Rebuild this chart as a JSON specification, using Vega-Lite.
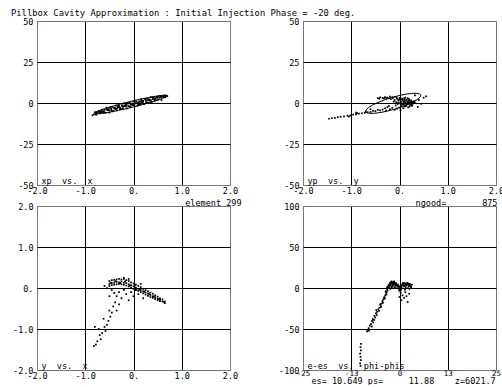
{
  "$schema": "https://vega.github.io/schema/vega-lite/v6.json",
  "padding": {"left": 11, "top": 8, "right": 0, "bottom": 0},
  "title": {"text": "Pillbox Cavity Approximation : Initial Injection Phase = -20 deg.", "anchor": "start", "frame": "group", "dx": -26, "fontSize": 8.8, "fontWeight": "normal", "font": "DejaVu Sans Mono", "offset": -1, "color": "black"},
  "columns": 2,
  "spacing": {"row": 21, "column": 73},
  "bounds": "flush",
  "datasets": {
    "etl": [
      {"i":0,"x":0.697,"y":4.46},{"i":1,"x":0.675,"y":3.82},{"i":2,"x":0.603,"y":2.85},{"i":3,"x":0.487,"y":1.63},{"i":4,"x":0.333,"y":0.23},{"i":5,"x":0.153,"y":-1.24},{"i":6,"x":-0.041,"y":-2.69},{"i":7,"x":-0.237,"y":-4.02},{"i":8,"x":-0.42,"y":-5.14},{"i":9,"x":-0.578,"y":-5.97},{"i":10,"x":-0.70,"y":-6.45},{"i":11,"x":-0.779,"y":-6.56},{"i":12,"x":-0.809,"y":-6.28},{"i":13,"x":-0.787,"y":-5.64},{"i":14,"x":-0.715,"y":-4.67},{"i":15,"x":-0.599,"y":-3.45},{"i":16,"x":-0.445,"y":-2.05},{"i":17,"x":-0.265,"y":-0.58},{"i":18,"x":-0.071,"y":0.87},{"i":19,"x":0.125,"y":2.20},{"i":20,"x":0.308,"y":3.32},{"i":21,"x":0.466,"y":4.15},{"i":22,"x":0.589,"y":4.63},{"i":23,"x":0.667,"y":4.74},{"i":24,"x":0.697,"y":4.46}
    ],
    "etr": [
      {"i":0,"x":0.443,"y":4.86},{"i":1,"x":0.433,"y":3.78},{"i":2,"x":0.384,"y":2.43},{"i":3,"x":0.30,"y":0.90},{"i":4,"x":0.187,"y":-0.70},{"i":5,"x":0.052,"y":-2.27},{"i":6,"x":-0.095,"y":-3.7},{"i":7,"x":-0.244,"y":-4.89},{"i":8,"x":-0.386,"y":-5.76},{"i":9,"x":-0.51,"y":-6.25},{"i":10,"x":-0.608,"y":-6.33},{"i":11,"x":-0.674,"y":-5.99},{"i":12,"x":-0.703,"y":-5.26},{"i":13,"x":-0.693,"y":-4.18},{"i":14,"x":-0.644,"y":-2.83},{"i":15,"x":-0.56,"y":-1.30},{"i":16,"x":-0.447,"y":0.30},{"i":17,"x":-0.312,"y":1.87},{"i":18,"x":-0.165,"y":3.3},{"i":19,"x":-0.016,"y":4.49},{"i":20,"x":0.126,"y":5.36},{"i":21,"x":0.25,"y":5.85},{"i":22,"x":0.348,"y":5.93},{"i":23,"x":0.414,"y":5.59},{"i":24,"x":0.443,"y":4.86}
    ],
    "tl": [
      {"x":-0.80,"y":-5.6},{"x":-0.78,"y":-6.7},{"x":-0.76,"y":-5.7},{"x":-0.74,"y":-6.1},{"x":-0.72,"y":-4.9},{"x":-0.70,"y":-6.3},{"x":-0.68,"y":-5.2},{"x":-0.66,"y":-4.3},{"x":-0.64,"y":-5.3},{"x":-0.62,"y":-5.9},{"x":-0.60,"y":-4.2},{"x":-0.58,"y":-6.0},{"x":-0.56,"y":-2.8},{"x":-0.54,"y":-4.4},{"x":-0.52,"y":-3.7},{"x":-0.50,"y":-5.9},{"x":-0.48,"y":-2.9},{"x":-0.46,"y":-4.5},{"x":-0.44,"y":-2.4},{"x":-0.42,"y":-4.8},{"x":-0.40,"y":-2.9},{"x":-0.38,"y":-3.8},{"x":-0.36,"y":-1.6},{"x":-0.34,"y":-4.5},{"x":-0.32,"y":-2.7},{"x":-0.30,"y":-1.7},{"x":-0.28,"y":-2.8},{"x":-0.26,"y":-3.4},{"x":-0.24,"y":-1.6},{"x":-0.22,"y":-3.5},{"x":-0.20,"y":-0.2},{"x":-0.18,"y":-1.9},{"x":-0.16,"y":-1.1},{"x":-0.14,"y":-3.3},{"x":-0.12,"y":-0.4},{"x":-0.10,"y":-1.9},{"x":-0.08,"y":0.1},{"x":-0.06,"y":-2.2},{"x":-0.04,"y":-0.4},{"x":-0.02,"y":-1.2},{"x":0.00,"y":1.0},{"x":0.02,"y":-2.0},{"x":0.04,"y":-0.1},{"x":0.06,"y":0.8},{"x":0.08,"y":-0.2},{"x":0.10,"y":-0.8},{"x":0.12,"y":1.0},{"x":0.14,"y":-0.9},{"x":0.16,"y":2.3},{"x":0.18,"y":0.7},{"x":0.20,"y":1.4},{"x":0.22,"y":-0.7},{"x":0.24,"y":2.2},{"x":0.26,"y":0.6},{"x":0.28,"y":2.7},{"x":0.30,"y":0.3},{"x":0.32,"y":2.2},{"x":0.34,"y":1.3},{"x":0.36,"y":3.6},{"x":0.38,"y":0.6},{"x":0.40,"y":2.4},{"x":0.42,"y":3.4},{"x":0.44,"y":2.3},{"x":0.46,"y":1.8},{"x":0.48,"y":3.5},{"x":0.50,"y":1.7},{"x":0.52,"y":4.2},{"x":0.54,"y":3.2},{"x":0.56,"y":4.0},{"x":0.58,"y":1.8},{"x":0.60,"y":4.3},{"x":0.62,"y":3.5},{"x":0.64,"y":4.6},{"x":0.66,"y":3.5},{"x":0.68,"y":4.5},{"x":0.70,"y":4.2},
      {"x":-0.60,"y":-5.7},{"x":-0.56,"y":-3.7},{"x":-0.52,"y":-4.4},{"x":-0.48,"y":-2.6},{"x":-0.44,"y":-5.1},{"x":-0.40,"y":-3.0},{"x":-0.36,"y":-3.6},{"x":-0.32,"y":-1.7},{"x":-0.28,"y":-3.7},{"x":-0.24,"y":-1.5},{"x":-0.20,"y":-1.9},{"x":-0.16,"y":-2.0},{"x":-0.12,"y":0.0},{"x":-0.08,"y":-2.2},{"x":-0.04,"y":-0.6},{"x":0.00,"y":-1.3},{"x":0.04,"y":1.4},{"x":0.08,"y":-1.6},{"x":0.12,"y":-0.6},{"x":0.16,"y":1.4},{"x":0.20,"y":0.7},{"x":0.24,"y":2.5},{"x":0.28,"y":0.0},{"x":0.32,"y":2.1},{"x":0.36,"y":1.6},{"x":0.40,"y":3.4},{"x":0.44,"y":1.4},{"x":0.48,"y":3.6},
      {"x":-0.70,"y":-5.6},{"x":-0.62,"y":-5.0},{"x":-0.54,"y":-4.0},{"x":-0.46,"y":-3.6},{"x":-0.38,"y":-3.1},{"x":-0.30,"y":-2.4},{"x":-0.22,"y":-2.3},{"x":-0.14,"y":-1.6},{"x":-0.06,"y":-1.0},{"x":0.02,"y":-0.6},{"x":0.10,"y":0.3},{"x":0.18,"y":0.9},{"x":0.26,"y":1.5},{"x":0.34,"y":2.0},{"x":0.42,"y":2.6},{"x":0.50,"y":3.1},{"x":0.58,"y":3.7},{"x":0.66,"y":4.1},{"x":-0.66,"y":-5.6},{"x":-0.50,"y":-4.4},{"x":-0.34,"y":-3.2},{"x":-0.18,"y":-1.5},{"x":-0.02,"y":-0.4},{"x":0.14,"y":0.6},{"x":0.30,"y":1.7},{"x":0.46,"y":2.8},{"x":0.62,"y":4.0},
      {"x":-0.85,"y":-7.5},{"x":-0.82,"y":-6.9},{"x":-0.77,"y":-7.2}
    ],
    "tr": [
      {"x":-0.05,"y":2.5},{"x":0.00,"y":3.0},{"x":0.05,"y":2.2},{"x":0.10,"y":2.8},{"x":0.15,"y":1.9},{"x":0.20,"y":1.2},{"x":0.25,"y":0.5},{"x":0.18,"y":-0.5},{"x":0.12,"y":0.3},{"x":0.08,"y":1.0},{"x":0.02,"y":0.4},{"x":-0.02,"y":1.5},{"x":0.06,"y":-0.8},{"x":0.14,"y":-1.5},{"x":0.22,"y":-1.2},{"x":0.28,"y":-0.4},{"x":0.10,"y":-2.2},{"x":0.04,"y":-1.9},{"x":-0.04,"y":-0.6},{"x":0.16,"y":0.9},{"x":0.20,"y":2.4},{"x":0.24,"y":1.6},{"x":0.30,"y":1.0},{"x":0.26,"y":-1.8},{"x":0.00,"y":-2.8},{"x":-0.08,"y":-1.5},{"x":-0.12,"y":0.8},{"x":-0.10,"y":1.8},{"x":0.12,"y":3.3},{"x":0.18,"y":-2.6},{"x":0.08,"y":-3.2},{"x":0.32,"y":0.2},
      {"x":0.03,"y":0.9},{"x":0.07,"y":1.7},{"x":0.11,"y":2.1},{"x":0.13,"y":-0.4},{"x":0.17,"y":0.4},{"x":0.21,"y":0.0},{"x":0.23,"y":0.9},{"x":0.19,"y":1.6},{"x":0.09,"y":-1.1},{"x":0.01,"y":-0.3},{"x":-0.03,"y":0.2},{"x":0.05,"y":-0.2},{"x":0.15,"y":-0.9},{"x":0.25,"y":-0.9},{"x":0.27,"y":0.8},{"x":0.17,"y":2.9},{"x":0.06,"y":2.7},{"x":-0.06,"y":3.3},{"x":-0.01,"y":2.1},{"x":0.13,"y":-2.0},{"x":0.21,"y":-2.1},{"x":0.09,"y":0.5},{"x":0.19,"y":0.2},{"x":0.03,"y":-1.2},{"x":-0.07,"y":0.6},{"x":0.11,"y":1.2},{"x":0.29,"y":0.3},{"x":0.23,"y":-0.3},{"x":-0.14,"y":2.9},{"x":-0.27,"y":3.0},
      {"x":-0.45,"y":3.0},{"x":-0.40,"y":3.4},{"x":-0.35,"y":3.1},{"x":-0.30,"y":3.6},{"x":-0.25,"y":3.3},{"x":-0.20,"y":3.9},{"x":-0.15,"y":3.5},{"x":-0.10,"y":3.8},{"x":-0.42,"y":2.6},{"x":-0.32,"y":2.8},{"x":-0.22,"y":2.9},{"x":-0.18,"y":2.4},
      {"x":-0.30,"y":-3.2},{"x":-0.25,"y":-2.5},{"x":-0.20,"y":-3.8},{"x":-0.15,"y":-2.9},{"x":-0.10,"y":-4.2},{"x":-0.05,"y":-3.5},{"x":0.02,"y":-4.4},{"x":-0.22,"y":-1.8},{"x":-0.35,"y":-4.0},{"x":-0.28,"y":-4.6},
      {"x":0.40,"y":1.8},{"x":0.50,"y":3.2},{"x":0.38,"y":-2.4},{"x":0.32,"y":4.6},{"x":0.45,"y":-0.5},{"x":0.55,"y":4.0},
      {"x":-0.40,"y":-4.5},{"x":-0.45,"y":-4.2},{"x":-0.50,"y":-5.0},{"x":-0.55,"y":-4.8},{"x":-0.60,"y":-5.5},{"x":-0.66,"y":-5.6},{"x":-0.72,"y":-6.0},{"x":-0.78,"y":-6.3},{"x":-0.84,"y":-6.5},{"x":-0.90,"y":-7.0},{"x":-0.96,"y":-7.1},{"x":-1.02,"y":-7.6},{"x":-1.08,"y":-7.7},{"x":-1.15,"y":-8.1},{"x":-1.22,"y":-8.4},{"x":-1.28,"y":-8.6},{"x":-1.34,"y":-9.1},{"x":-1.40,"y":-9.3},{"x":-1.46,"y":-9.6},{"x":-0.70,"y":-5.2},{"x":-0.88,"y":-6.2},{"x":-1.05,"y":-8.3},{"x":-0.60,"y":-3.8},{"x":-0.90,"y":-5.9}
    ],
    "bl": [
      {"x":-0.50,"y":0.17},{"x":-0.50,"y":0.10},{"x":-0.50,"y":0.05},{"x":-0.45,"y":0.19},{"x":-0.45,"y":0.12},{"x":-0.45,"y":0.07},{"x":-0.40,"y":0.20},{"x":-0.40,"y":0.13},{"x":-0.40,"y":0.08},{"x":-0.35,"y":0.21},{"x":-0.35,"y":0.15},{"x":-0.35,"y":0.09},{"x":-0.30,"y":0.22},{"x":-0.30,"y":0.14},{"x":-0.30,"y":0.10},{"x":-0.25,"y":0.21},{"x":-0.25,"y":0.16},{"x":-0.25,"y":0.09},{"x":-0.20,"y":0.22},{"x":-0.20,"y":0.13},{"x":-0.20,"y":0.08},{"x":-0.15,"y":0.19},{"x":-0.15,"y":0.12},{"x":-0.15,"y":0.06},{"x":-0.10,"y":0.17},{"x":-0.10,"y":0.09},{"x":-0.10,"y":0.04},{"x":-0.05,"y":0.14},{"x":-0.05,"y":0.07},{"x":-0.05,"y":0.01},{"x":0.00,"y":0.11},{"x":0.00,"y":0.04},{"x":0.00,"y":-0.02},{"x":0.05,"y":0.08},{"x":0.05,"y":0.01},{"x":0.05,"y":-0.05},{"x":0.10,"y":0.05},{"x":0.10,"y":-0.02},{"x":0.10,"y":-0.07},{"x":0.15,"y":0.02},{"x":0.15,"y":-0.05},{"x":0.15,"y":-0.10},{"x":0.20,"y":-0.02},{"x":0.20,"y":-0.08},{"x":0.20,"y":-0.13},{"x":0.25,"y":-0.05},{"x":0.25,"y":-0.11},{"x":0.25,"y":-0.16},{"x":0.30,"y":-0.08},{"x":0.30,"y":-0.14},{"x":0.30,"y":-0.19},{"x":0.35,"y":-0.11},{"x":0.35,"y":-0.17},{"x":0.35,"y":-0.22},{"x":0.40,"y":-0.14},{"x":0.40,"y":-0.20},{"x":0.40,"y":-0.24},{"x":0.45,"y":-0.18},{"x":0.45,"y":-0.23},{"x":0.45,"y":-0.27},{"x":0.50,"y":-0.21},{"x":0.50,"y":-0.26},{"x":0.50,"y":-0.30},{"x":0.55,"y":-0.25},{"x":0.55,"y":-0.29},{"x":0.55,"y":-0.32},{"x":0.60,"y":-0.28},{"x":0.60,"y":-0.33},{"x":0.65,"y":-0.33},{"x":0.65,"y":-0.37},
      {"x":-0.475,"y":0.13},{"x":-0.375,"y":0.17},{"x":-0.275,"y":0.12},{"x":-0.175,"y":0.16},{"x":-0.075,"y":0.06},{"x":0.025,"y":0.06},{"x":0.125,"y":-0.04},{"x":0.225,"y":-0.09},{"x":0.325,"y":-0.15},{"x":0.425,"y":-0.21},{"x":0.525,"y":-0.27},{"x":0.625,"y":-0.34},
      {"x":-0.45,"y":-0.05},{"x":-0.40,"y":-0.12},{"x":-0.35,"y":-0.20},{"x":-0.30,"y":-0.10},{"x":-0.25,"y":-0.25},{"x":-0.20,"y":-0.05},{"x":-0.15,"y":-0.15},{"x":-0.10,"y":-0.30},{"x":-0.05,"y":-0.10},{"x":0.00,"y":-0.20},{"x":0.10,"y":-0.15},{"x":0.20,"y":-0.25},{"x":-0.50,"y":-0.20},{"x":-0.38,"y":-0.35},{"x":-0.30,"y":-0.40},{"x":-0.42,"y":-0.45},{"x":-0.35,"y":-0.55},{"x":-0.45,"y":-0.60},{"x":0.05,"y":-0.05},{"x":-0.55,"y":0.00},{"x":-0.60,"y":0.05},{"x":-0.20,"y":0.25},{"x":-0.10,"y":0.22},{"x":0.15,"y":0.10},
      {"x":-0.48,"y":-0.70},{"x":-0.52,"y":-0.80},{"x":-0.55,"y":-0.90},{"x":-0.60,"y":-0.95},{"x":-0.58,"y":-1.05},{"x":-0.65,"y":-1.10},{"x":-0.70,"y":-1.15},{"x":-0.68,"y":-1.25},{"x":-0.75,"y":-1.30},{"x":-0.78,"y":-1.38},{"x":-0.82,"y":-1.42},{"x":-0.72,"y":-1.00},{"x":-0.62,"y":-0.75},{"x":-0.50,"y":-0.55},{"x":-0.80,"y":-0.95}
    ],
    "br": [
      {"x":-3.0,"y":2},{"x":-2.8,"y":4},{"x":-2.5,"y":6},{"x":-2.2,"y":5},{"x":-2.0,"y":7},{"x":-1.8,"y":4},{"x":-1.5,"y":6},{"x":-1.2,"y":5},{"x":-1.0,"y":3},{"x":-0.8,"y":4},{"x":-0.5,"y":2},{"x":-2.6,"y":1},{"x":-2.3,"y":3},{"x":-1.9,"y":2},{"x":-1.6,"y":3},{"x":-1.3,"y":1},{"x":-1.0,"y":0},{"x":-2.9,"y":0},{"x":-2.4,"y":-1},{"x":-2.1,"y":8},{"x":-1.7,"y":7},{"x":-1.4,"y":8},
      {"x":-2.7,"y":3},{"x":-2.4,"y":5},{"x":-2.2,"y":7},{"x":-1.9,"y":6},{"x":-1.6,"y":5},{"x":-1.3,"y":7},{"x":-1.1,"y":4},{"x":-0.9,"y":6},{"x":-0.7,"y":3},{"x":-0.4,"y":4},{"x":-0.2,"y":2},{"x":0.1,"y":0},{"x":0.5,"y":1},{"x":0.7,"y":4},{"x":1.0,"y":6},{"x":1.2,"y":3},{"x":1.7,"y":5},{"x":2.1,"y":6},{"x":2.5,"y":4},{"x":2.7,"y":5},{"x":2.9,"y":2},{"x":-3.2,"y":1},{"x":-2.0,"y":1},{"x":1.4,"y":-2},{"x":0.2,"y":-4},
      {"x":-0.3,"y":0},{"x":0.0,"y":-2},{"x":0.2,"y":-1},{"x":0.3,"y":1},{"x":-0.1,"y":-3},{"x":0.1,"y":2},{"x":0.4,"y":-2},
      {"x":0.6,"y":3},{"x":0.8,"y":5},{"x":1.0,"y":4},{"x":1.3,"y":6},{"x":1.5,"y":5},{"x":1.8,"y":3},{"x":2.0,"y":4},{"x":2.3,"y":5},{"x":2.5,"y":2},{"x":2.8,"y":3},{"x":3.0,"y":1},{"x":1.1,"y":2},{"x":1.6,"y":1},{"x":2.2,"y":0},{"x":2.6,"y":-1},{"x":0.9,"y":6},{"x":1.4,"y":3},{"x":1.9,"y":6},{"x":2.4,"y":3},{"x":3.2,"y":4},
      {"x":0.3,"y":-6},{"x":0.8,"y":-9},{"x":1.2,"y":-12},{"x":0.5,"y":-15},{"x":1.8,"y":-10},{"x":2.1,"y":-17},{"x":1.5,"y":-5},{"x":2.5,"y":-7},{"x":0.0,"y":-11},
      {"x":-3.1,"y":-3},{"x":-3.3,"y":-5},{"x":-3.5,"y":-6},{"x":-3.4,"y":-8},{"x":-3.7,"y":-9},{"x":-3.9,"y":-11},{"x":-3.8,"y":-13},{"x":-4.2,"y":-14},{"x":-4.4,"y":-16},{"x":-4.3,"y":-18},{"x":-4.7,"y":-19},{"x":-4.9,"y":-21},{"x":-4.8,"y":-23},{"x":-5.2,"y":-24},{"x":-5.5,"y":-26},{"x":-5.3,"y":-28},{"x":-5.8,"y":-29},{"x":-6.1,"y":-31},{"x":-5.9,"y":-33},{"x":-6.5,"y":-34},{"x":-6.3,"y":-36},{"x":-6.9,"y":-38},{"x":-7.1,"y":-40},{"x":-6.8,"y":-42},{"x":-7.4,"y":-44},{"x":-7.7,"y":-46},{"x":-7.2,"y":-47},{"x":-8.0,"y":-49},{"x":-8.3,"y":-51},{"x":-8.4,"y":-53},{"x":-7.9,"y":-52},{"x":-6.0,"y":-27},{"x":-4.0,"y":-12},{"x":-3.2,"y":-2},{"x":-3.6,"y":-4},{"x":-5.0,"y":-20},{"x":-6.6,"y":-39},
      {"x":-10.0,"y":-68},{"x":-10.1,"y":-72},{"x":-10.0,"y":-76},{"x":-10.2,"y":-80},{"x":-10.1,"y":-84},{"x":-10.0,"y":-88},{"x":-10.2,"y":-92},{"x":-10.1,"y":-95}
    ]
  },
  "concat": [
    {
      "width": 193, "height": 164,
      "encoding": {
        "x": {"field": "x", "type": "quantitative", "scale": {"domain": [-2, 2], "nice": false, "zero": false},
          "axis": {"values": [-2, -1, 0, 1, 2], "labelExpr": "datum.value==0?'0.':(datum.value<0?'-':'')+format(abs(datum.value),'.1f')",
            "title": "element 299", "titleX": 204, "titleY": 20, "titleAlign": "right", "titleBaseline": "alphabetic",
            "gridColor": {"condition": {"test": "abs(datum.value)>=2", "value": "#777"}, "value": "black"}}},
        "y": {"field": "y", "type": "quantitative", "scale": {"domain": [-50, 50], "nice": false, "zero": false},
          "axis": {"values": [-50, -25, 0, 25, 50], "labelExpr": "(datum.value<0?'-':'')+abs(datum.value)",
            "title": "xp\u00a0\u00a0vs.\u00a0\u00a0x", "titleAngle": 0, "titleX": 4, "titleY": 162, "titleAlign": "left", "titleBaseline": "alphabetic",
            "gridColor": {"condition": {"test": "abs(datum.value)>=50", "value": "#777"}, "value": "black"}}}
      },
      "layer": [
        {"data": {"name": "etl"}, "mark": {"type": "line", "color": "black", "strokeWidth": 1}, "encoding": {"order": {"field": "i", "type": "quantitative"}}},
        {"data": {"name": "tl"}, "mark": {"type": "square", "size": 3, "color": "black", "opacity": 1}}
      ]
    },
    {
      "width": 193, "height": 164,
      "encoding": {
        "x": {"field": "x", "type": "quantitative", "scale": {"domain": [-2, 2], "nice": false, "zero": false},
          "axis": {"values": [-2, -1, 0, 1, 2], "labelExpr": "datum.value==0?'0.':(datum.value<0?'-':'')+format(abs(datum.value),'.1f')",
            "title": "ngood=\u00a0\u00a0\u00a0\u00a0\u00a0\u00a0\u00a0875", "titleX": 194, "titleY": 20, "titleAlign": "right", "titleBaseline": "alphabetic",
            "gridColor": {"condition": {"test": "abs(datum.value)>=2", "value": "#777"}, "value": "black"}}},
        "y": {"field": "y", "type": "quantitative", "scale": {"domain": [-50, 50], "nice": false, "zero": false},
          "axis": {"values": [-50, -25, 0, 25, 50], "labelExpr": "(datum.value<0?'-':'')+abs(datum.value)",
            "title": "yp\u00a0\u00a0vs.\u00a0\u00a0y", "titleAngle": 0, "titleX": 4, "titleY": 162, "titleAlign": "left", "titleBaseline": "alphabetic",
            "gridColor": {"condition": {"test": "abs(datum.value)>=50", "value": "#777"}, "value": "black"}}}
      },
      "layer": [
        {"data": {"name": "etr"}, "mark": {"type": "line", "color": "black", "strokeWidth": 1}, "encoding": {"order": {"field": "i", "type": "quantitative"}}},
        {"data": {"name": "tr"}, "mark": {"type": "square", "size": 3, "color": "black", "opacity": 1}}
      ]
    },
    {
      "width": 193, "height": 164,
      "data": {"name": "bl"},
      "mark": {"type": "square", "size": 3, "color": "black", "opacity": 1},
      "encoding": {
        "x": {"field": "x", "type": "quantitative", "scale": {"domain": [-2, 2], "nice": false, "zero": false},
          "axis": {"values": [-2, -1, 0, 1, 2], "labelExpr": "datum.value==0?'0.':(datum.value<0?'-':'')+format(abs(datum.value),'.1f')",
            "title": null,
            "gridColor": {"condition": {"test": "abs(datum.value)>=2", "value": "#777"}, "value": "black"}}},
        "y": {"field": "y", "type": "quantitative", "scale": {"domain": [-2, 2], "nice": false, "zero": false},
          "axis": {"values": [-2, -1, 0, 1, 2], "labelExpr": "datum.value==0?'0.':(datum.value<0?'-':'')+format(abs(datum.value),'.1f')",
            "title": "y\u00a0\u00a0vs.\u00a0\u00a0x", "titleAngle": 0, "titleX": 4, "titleY": 162, "titleAlign": "left", "titleBaseline": "alphabetic",
            "gridColor": {"condition": {"test": "abs(datum.value)>=2", "value": "#777"}, "value": "black"}}}
      }
    },
    {
      "width": 193, "height": 164,
      "data": {"name": "br"},
      "mark": {"type": "square", "size": 3, "color": "black", "opacity": 1},
      "encoding": {
        "x": {"field": "x", "type": "quantitative", "scale": {"domain": [-25, 25], "nice": false, "zero": false},
          "axis": {"values": [-25, -12.5, 0, 12.5, 25], "labelExpr": "datum.value==-12.5?'-13':datum.value==12.5?'13':datum.value==-25?'-25':datum.value==0?'0':'25'",
            "labelPadding": -1, "labelFontSize": 7.5,
            "title": "es=\u00a010.649\u00a0ps=\u00a0\u00a0\u00a0\u00a0\u00a011.88\u00a0\u00a0\u00a0\u00a0z=6021.7", "titleX": 8, "titleY": 13, "titleAlign": "left", "titleBaseline": "alphabetic",
            "gridColor": {"condition": {"test": "abs(datum.value)>=25", "value": "#777"}, "value": "black"}}},
        "y": {"field": "y", "type": "quantitative", "scale": {"domain": [-100, 100], "nice": false, "zero": false},
          "axis": {"values": [-100, -50, 0, 50, 100], "labelExpr": "(datum.value<0?'-':'')+abs(datum.value)",
            "title": "e-es\u00a0\u00a0vs.\u00a0\u00a0phi-phis", "titleAngle": 0, "titleX": 4, "titleY": 162, "titleAlign": "left", "titleBaseline": "alphabetic",
            "gridColor": {"condition": {"test": "abs(datum.value)>=100", "value": "#777"}, "value": "black"}}}
      }
    }
  ],
  "config": {
    "font": "DejaVu Sans Mono",
    "background": "white",
    "view": {"stroke": "#777", "strokeWidth": 1},
    "axis": {"domain": false, "ticks": false, "grid": true, "gridWidth": 1, "gridOpacity": 1,
      "labelFont": "DejaVu Sans Mono", "labelFontSize": 8.5, "labelColor": "black",
      "labelFlush": false, "labelOverlap": false, "labelBound": false,
      "titleFont": "DejaVu Sans Mono", "titleFontSize": 8.5, "titleFontWeight": "normal", "titleColor": "black", "titlePadding": 0},
    "axisY": {"labelPadding": 4},
    "axisX": {"labelPadding": 1}
  }
}
